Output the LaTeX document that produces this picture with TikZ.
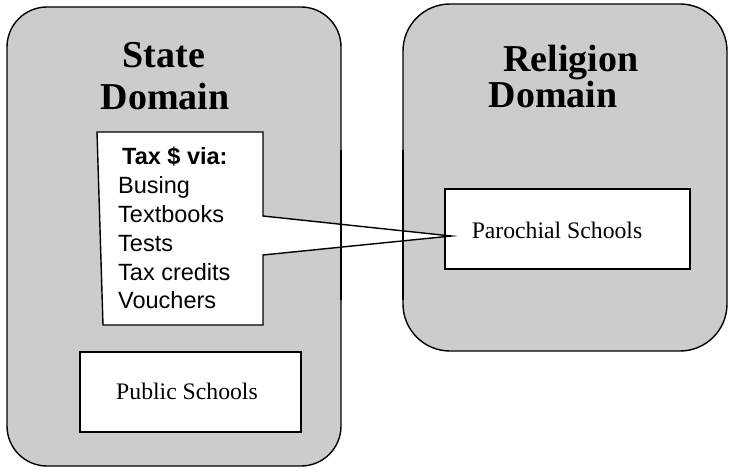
\documentclass[tikz,border=0pt]{standalone}
\usepackage{fontspec}
\setmainfont{Liberation Serif}
\newfontfamily\arialfont{Liberation Sans}
\definecolor{domaingray}{HTML}{CCCCCC}
\tikzset{
  domainbox/.style={fill=domaingray, draw=black, line width=1.4pt},
  domainedge/.style={draw=black, line width=1.4pt},
  schoolbox/.style={fill=white, draw=black, line width=1.4pt},
  callout/.style={fill=white, draw=black, line width=1.4pt, line join=miter},
  titletext/.style={anchor=base, inner sep=0pt, font=\fontsize{38}{42}\selectfont\bfseries},
  schooltext/.style={anchor=base, inner sep=0pt, font=\fontsize{23.7}{28}\selectfont},
  listtext/.style={anchor=base west, inner sep=0pt, font=\arialfont\fontsize{23.5}{29}\selectfont}
}
\begin{document}
\begin{tikzpicture}[x=1pt,y=-1pt]
\useasboundingbox (0,0) rectangle (730,468);
% domains
\draw[domainbox, rounded corners=40pt] (7,7) rectangle (341,466);
\draw[domainbox, rounded corners=47pt] (403,4) rectangle (727,351);
% titles
\node[titletext] (st1) at (164,68) {State};
\node[titletext] (st2) at (165,110) {Domain};
\node[titletext] (rt1) at (571,72) {Religion};
\node[titletext] (rt2) at (553,108) {Domain};
% schools
\node[schoolbox, minimum width=245pt, minimum height=80pt, inner sep=0pt] (par) at (567.5,229) {};
\node[schooltext] (partext) at (557,238) {Parochial Schools};
\node[schoolbox, minimum width=221pt, minimum height=80pt, inner sep=0pt] (pub) at (190.5,392) {};
\node[schooltext] (pubtext) at (187,399) {Public Schools};
% callout
\coordinate (tip) at ([xshift=7pt,yshift=-7pt]par.west);
\draw[callout] (97,132) -- (263,132) -- (263,216) -- (tip) -- (263,255) -- (263,325) -- (103,325) -- cycle;
% domain edges visible through the pointer
\draw[domainedge] (341,150) -- (341,300);
\draw[domainedge] (403,150) -- (403,300);
% list
\node[listtext, font=\arialfont\bfseries\fontsize{23.5}{29}\selectfont] (l0) at (122,164) {Tax \$ via:};
\node[listtext] (l1) at (118,193) {Busing};
\node[listtext] (l2) at (118,222) {Textbooks};
\node[listtext] (l3) at (118,251) {Tests};
\node[listtext] (l4) at (118,280) {Tax credits};
\node[listtext] (l5) at (118,308) {Vouchers};
\end{tikzpicture}
\end{document}
